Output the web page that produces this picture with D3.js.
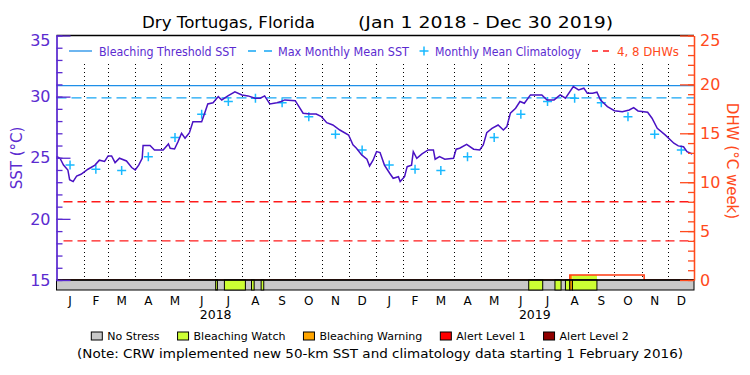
<!DOCTYPE html>
<html>
<head>
<meta charset="utf-8">
<script src="https://cdn.jsdelivr.net/npm/d3@7"></script>
<style>
  body { margin: 0; background: #fff; }
  svg { font-family: "DejaVu Sans", sans-serif; }
</style>
</head>
<body>
<svg id="chart" width="750" height="375"></svg>
<script>
// --- Data ---
const titleLeft = "Dry Tortugas, Florida";
const titleRight = "(Jan 1 2018 - Dec 30 2019)";

const sstSeries = [
  ["2018-01-01",25.1],["2018-01-05",24.96],["2018-01-09",24.4],["2018-01-14",24.0],["2018-01-16",23.2],
  ["2018-01-20",23.05],["2018-01-24",23.5],["2018-01-29",23.65],["2018-02-06",24.06],["2018-02-14",24.4],
  ["2018-02-19",24.8],["2018-02-25",24.7],["2018-03-01",25.15],["2018-03-05",25.15],["2018-03-09",24.6],
  ["2018-03-14",24.96],["2018-03-22",24.74],["2018-03-28",24.2],["2018-04-01",24.0],["2018-04-05",24.4],
  ["2018-04-09",24.96],["2018-04-10",26.0],["2018-04-18",26.0],["2018-04-23",25.64],["2018-05-03",25.64],
  ["2018-05-09",26.13],["2018-05-11",25.78],["2018-05-16",25.72],["2018-05-20",26.32],["2018-05-24",27.0],
  ["2018-05-28",26.6],["2018-06-02",27.05],["2018-06-06",27.95],["2018-06-16",27.95],["2018-06-20",28.77],
  ["2018-06-23",29.4],["2018-06-29",29.5],["2018-07-05",30.0],["2018-07-09",29.73],["2018-07-16",30.06],
  ["2018-07-24",30.4],["2018-08-01",30.14],["2018-08-08",30.06],["2018-08-16",29.87],["2018-08-22",29.87],
  ["2018-08-27",30.06],["2018-09-02",29.4],["2018-09-10",29.5],["2018-09-15",29.6],["2018-09-19",29.73],
  ["2018-10-01",29.67],["2018-10-04",29.32],["2018-10-10",28.64],["2018-10-18",28.58],["2018-10-25",28.58],
  ["2018-10-31",28.36],["2018-11-06",27.87],["2018-11-13",27.68],["2018-11-21",27.27],["2018-12-01",26.86],
  ["2018-12-06",26.05],["2018-12-10",25.78],["2018-12-16",25.23],["2018-12-22",24.88],["2018-12-25",24.33],
  ["2018-12-29",24.8],["2019-01-02",25.5],["2019-01-06",25.42],["2019-01-11",24.4],["2019-01-17",23.73],
  ["2019-01-21",23.32],["2019-01-27",23.45],["2019-01-29",23.05],["2019-02-03",23.45],["2019-02-06",24.27],
  ["2019-02-11",24.4],["2019-02-13",25.5],["2019-02-17",24.96],["2019-02-23",25.31],["2019-03-02",25.64],
  ["2019-03-08",25.64],["2019-03-10",24.88],["2019-03-15",25.09],["2019-03-21",24.88],["2019-03-31",24.96],
  ["2019-04-03",25.7],["2019-04-07",25.78],["2019-04-15",26.1],["2019-04-23",25.7],["2019-04-30",25.64],
  ["2019-05-04",26.05],["2019-05-08",27.05],["2019-05-14",27.4],["2019-05-21",27.68],["2019-05-27",27.27],
  ["2019-05-31",27.55],["2019-06-04",28.64],["2019-06-10",29.05],["2019-06-15",29.6],["2019-06-20",29.46],
  ["2019-06-27",30.14],["2019-07-10",30.14],["2019-07-16",29.73],["2019-07-24",29.73],["2019-07-31",30.14],
  ["2019-08-06",29.87],["2019-08-15",30.82],["2019-08-21",30.55],["2019-08-27",30.69],["2019-08-31",30.28],
  ["2019-09-06",30.28],["2019-09-11",30.36],["2019-09-15",29.73],["2019-09-23",29.18],["2019-10-01",28.85],
  ["2019-10-10",28.77],["2019-10-18",28.91],["2019-10-23",29.1],["2019-10-28",28.83],["2019-11-08",28.72],
  ["2019-11-13",28.23],["2019-11-19",27.41],["2019-11-28",26.87],["2019-12-08",26.19],["2019-12-13",25.97],
  ["2019-12-19",25.9],["2019-12-23",25.5],["2019-12-29",25.31]
];

// monthly mean climatology, Jan..Dec (same for both years)
const climatology = [24.4, 24.06, 23.95, 25.09, 26.65, 28.56, 29.6, 29.87, 29.5, 28.36, 26.92, 25.64];
const years = [2018, 2019];
const monthLetters = ["J","F","M","A","M","J","J","A","S","O","N","D"];

const mmm = 29.9;
const bleachingThreshold = 30.9;
const dhwLevels = [4, 8];

// DHW (step values)
const dhwSeries = [["2018-01-01",0],["2019-08-11",0.5],["2019-11-04",0],["2019-12-31",0]];

// stress level: 0 none, 1 watch, 2 warning, 3 alert 1, 4 alert 2
const stressSegments = [
  ["2018-07-02","2018-07-04",1],["2018-07-12","2018-08-05",1],["2018-08-12","2018-08-15",1],
  ["2018-08-23","2018-08-26",1],
  ["2019-06-25","2019-07-11",1],["2019-07-25","2019-08-01",1],["2019-08-06","2019-08-11",1],
  ["2019-08-11","2019-08-14",2],["2019-08-14","2019-09-11",1]
];
const stressNames = ["No Stress","Bleaching Watch","Bleaching Warning","Alert Level 1","Alert Level 2"];

const sstTicks = d3.range(15, 36);
const sstMajor = [15, 20, 25, 30, 35];
const dhwTicks = d3.range(0, 26);
const dhwMajor = [0, 5, 10, 15, 20, 25];

// --- Styles ---
const purple = "#5b2bd0", orange = "#ff4a1c";
const stressColor = d3.scaleOrdinal().domain([0,1,2,3,4])
  .range(["#c8c8c8", "#ccff33", "#ffa500", "#ff0000", "#900000"]);

const svg = d3.select("#chart");
const pLeft = 56.5, pRight = 694, pTop = 35.5, pBottom = 280, barBottom = 290;
const parse = d3.timeParse("%Y-%m-%d");

const x = d3.scaleTime().domain([parse("2018-01-01"), parse("2019-12-31")]).range([pLeft, pRight]);
const y = d3.scaleLinear().domain([15, 35]).range([pBottom, pTop]);
const yDhw = d3.scaleLinear().domain([0, 25]).range([pBottom, pTop]);

// --- Dotted month lines ---
svg.append("g").selectAll("line")
  .data(d3.timeMonth.range(parse("2018-02-01"), parse("2019-12-31")))
  .enter().append("line")
    .attr("x1", d => Math.round(x(d)) + 0.5).attr("x2", d => Math.round(x(d)) + 0.5)
    .attr("y1", 64).attr("y2", pBottom)
    .attr("stroke", "#000").attr("stroke-width", 1).attr("stroke-dasharray", "1,3");

// --- Threshold lines ---
svg.append("line")
  .attr("x1", pLeft).attr("x2", pRight).attr("y1", y(bleachingThreshold)).attr("y2", y(bleachingThreshold))
  .attr("stroke", "#1f8fe8").attr("stroke-width", 1.3);
svg.append("line")
  .attr("x1", pLeft).attr("x2", pRight).attr("y1", y(mmm)).attr("y2", y(mmm))
  .attr("stroke", "#16a6f5").attr("stroke-width", 1.3).attr("stroke-dasharray", "10,5");

// 4, 8 DHW lines
svg.append("g").selectAll("line")
  .data(dhwLevels)
  .enter().append("line")
    .attr("x1", pLeft + 7).attr("x2", pRight).attr("y1", d => yDhw(d)).attr("y2", d => yDhw(d))
    .attr("stroke", "#ff1a1a").attr("stroke-width", 1.3).attr("stroke-dasharray", "9,5");

// --- Climatology crosses ---
const climPoints = [];
years.forEach(yr => climatology.forEach((v, m) => {
  const a = new Date(yr, m, 1), b = new Date(yr, m + 1, 1);
  climPoints.push({ date: new Date((+a + +b) / 2), value: v });
}));
svg.append("g").selectAll("path")
  .data(climPoints)
  .enter().append("path")
    .attr("transform", d => `translate(${x(d.date)},${y(d.value)})`)
    .attr("d", "M-4.5,0H4.5M0,-4.5V4.5")
    .attr("stroke", "#19b9ff").attr("stroke-width", 1.5);

// --- SST line ---
svg.append("path")
  .datum(sstSeries)
  .attr("fill", "none")
  .attr("stroke", "#4a12c4")
  .attr("stroke-width", 1.5)
  .attr("d", d3.line().x(d => x(parse(d[0]))).y(d => y(d[1])));

// --- DHW fill (stress colour) + line ---
const dhwAt = t => {
  let v = 0;
  dhwSeries.forEach(d => { if (parse(d[0]) <= t) v = d[1]; });
  return v;
};
svg.append("g").selectAll("rect")
  .data(stressSegments.filter(s => dhwAt(parse(s[0])) > 0))
  .enter().append("rect")
    .attr("x", d => x(parse(d[0])))
    .attr("width", d => x(parse(d[1])) - x(parse(d[0])))
    .attr("y", d => yDhw(dhwAt(parse(d[0]))))
    .attr("height", d => yDhw(0) - yDhw(dhwAt(parse(d[0]))))
    .attr("fill", d => stressColor(d[2]));
svg.append("path")
  .datum(dhwSeries)
  .attr("fill", "none")
  .attr("stroke", "#ff3b10")
  .attr("stroke-width", 1.5)
  .attr("d", d3.line().curve(d3.curveStepAfter).x(d => x(parse(d[0]))).y(d => yDhw(d[1])));

// --- Stress bar ---
svg.append("rect")
  .attr("x", pLeft).attr("y", pBottom).attr("width", pRight - pLeft).attr("height", barBottom - pBottom)
  .attr("fill", stressColor(0)).attr("stroke", "#000").attr("stroke-width", 1);
svg.append("g").selectAll("rect")
  .data(stressSegments)
  .enter().append("rect")
    .attr("x", d => x(parse(d[0])))
    .attr("width", d => x(parse(d[1])) - x(parse(d[0])))
    .attr("y", pBottom).attr("height", barBottom - pBottom)
    .attr("fill", d => stressColor(d[2]))
    .attr("stroke", "#000").attr("stroke-width", 1);
svg.append("line")
  .attr("x1", pLeft).attr("x2", pRight).attr("y1", pBottom).attr("y2", pBottom)
  .attr("stroke", "#000").attr("stroke-width", 1.5);

// --- Frame top ---
svg.append("line")
  .attr("x1", pLeft).attr("x2", pRight).attr("y1", pTop).attr("y2", pTop)
  .attr("stroke", "#000").attr("stroke-width", 1.3);

// --- Left axis (SST) ---
const gL = svg.append("g").attr("transform", `translate(${pLeft},0)`).attr("color", purple);
gL.call(d3.axisLeft(y).tickValues(sstTicks).tickSizeInner(-6).tickSizeOuter(0).tickFormat(""));
const gLm = svg.append("g").attr("transform", `translate(${pLeft},0)`).attr("color", purple);
gLm.call(d3.axisLeft(y).tickValues(sstMajor).tickSizeInner(-14).tickSizeOuter(0).tickPadding(6));
gLm.selectAll("text").attr("font-size", 16).attr("font-family", "DejaVu Sans");
gLm.selectAll(".tick").filter(d => d === 35).select("text").attr("y", 5);
[gL, gLm].forEach(g => g.selectAll("line, path").attr("stroke-width", 1.3));

// --- Right axis (DHW) ---
const gR = svg.append("g").attr("transform", `translate(${pRight},0)`).attr("color", orange);
gR.call(d3.axisRight(yDhw).tickValues(dhwTicks).tickSizeInner(-6).tickSizeOuter(0).tickFormat(""));
const gRm = svg.append("g").attr("transform", `translate(${pRight},0)`).attr("color", orange);
gRm.call(d3.axisRight(yDhw).tickValues(dhwMajor).tickSizeInner(-14).tickSizeOuter(0).tickPadding(6));
gRm.selectAll("text").attr("font-size", 16).attr("font-family", "DejaVu Sans");
gRm.selectAll(".tick").filter(d => d === 25).select("text").attr("y", 5);
[gR, gRm].forEach(g => g.selectAll("line, path").attr("stroke-width", 1.3));

// Axis titles
svg.append("text")
  .attr("transform", "translate(22,158) rotate(-90)")
  .attr("text-anchor", "middle")
  .attr("fill", purple).style("font-size", "15px")
  .text("SST (°C)");
svg.append("text")
  .attr("transform", "translate(727,161) rotate(90)")
  .attr("text-anchor", "middle")
  .attr("fill", orange).style("font-size", "15px")
  .text("DHW (°C week)");

// --- Month / year labels ---
const monthStarts = d3.timeMonth.range(parse("2018-01-01"), parse("2020-01-01"));
svg.append("g").selectAll("text")
  .data(monthStarts)
  .enter().append("text")
    .attr("x", d => x(new Date((+d + +d3.timeMonth.offset(d, 1)) / 2)))
    .attr("y", 305)
    .attr("text-anchor", "middle")
    .style("font-size", "12px")
    .text(d => monthLetters[d.getMonth()]);
svg.append("g").selectAll("text")
  .data(years)
  .enter().append("text")
    .attr("x", d => x(new Date(d, 6, 2)))
    .attr("y", 319)
    .attr("text-anchor", "middle")
    .style("font-size", "12.5px")
    .text(d => d);

// --- Title ---
svg.append("text")
  .attr("x", 142).attr("y", 28)
  .attr("textLength", 173).attr("lengthAdjust", "spacingAndGlyphs")
  .style("font-size", "16px")
  .text(titleLeft);
svg.append("text")
  .attr("x", 358).attr("y", 28)
  .attr("textLength", 255).attr("lengthAdjust", "spacingAndGlyphs")
  .style("font-size", "16px")
  .text(titleRight);

// --- Top legend ---
const lg = svg.append("g").attr("transform", "translate(0,51)");
lg.append("line").attr("x1", 69).attr("x2", 92).attr("stroke", "#1f8fe8").attr("stroke-width", 1.3);
lg.append("text").attr("x", 99).attr("y", 4.5)
  .attr("textLength", 137).attr("lengthAdjust", "spacingAndGlyphs")
  .attr("fill", purple).style("font-size", "13px").text("Bleaching Threshold SST");
lg.append("line").attr("x1", 248).attr("x2", 272).attr("stroke", "#16a6f5")
  .attr("stroke-width", 1.3).attr("stroke-dasharray", "8,8");
lg.append("text").attr("x", 278).attr("y", 4.5)
  .attr("textLength", 131).attr("lengthAdjust", "spacingAndGlyphs")
  .attr("fill", purple).style("font-size", "13px").text("Max Monthly Mean SST");
lg.append("path").attr("transform", "translate(424,0)").attr("d", "M-4.5,0H4.5M0,-4.5V4.5")
  .attr("stroke", "#19b9ff").attr("stroke-width", 1.5);
lg.append("text").attr("x", 435).attr("y", 4.5)
  .attr("textLength", 146).attr("lengthAdjust", "spacingAndGlyphs")
  .attr("fill", purple).style("font-size", "13px").text("Monthly Mean Climatology");
lg.append("line").attr("x1", 592).attr("x2", 609).attr("stroke", "#ff1a1a")
  .attr("stroke-width", 1.3).attr("stroke-dasharray", "6,5");
lg.append("text").attr("x", 617).attr("y", 4.5)
  .attr("textLength", 62).attr("lengthAdjust", "spacingAndGlyphs")
  .attr("fill", orange).style("font-size", "13px").text("4, 8 DHWs");

// --- Bottom legend ---
const bl = svg.append("g").attr("transform", "translate(0,340)");
let cx = 0;
const items = bl.selectAll("g").data(stressNames).enter().append("g");
items.append("rect").attr("y", -8).attr("width", 11).attr("height", 8)
  .attr("fill", (d, i) => stressColor(i)).attr("stroke", "#000").attr("stroke-width", 1);
items.append("text").attr("x", 16).attr("y", 0).style("font-size", "11px").text(d => d);
items.each(function() {
  const w = d3.select(this).select("text").node().getComputedTextLength();
  d3.select(this).attr("transform", `translate(${cx},0)`);
  cx += 16 + w + 18;
});
const rowW = cx - 18;
bl.attr("transform", `translate(${(360 - rowW / 2).toFixed(1)},340)`);

svg.append("text")
  .attr("x", 380).attr("y", 358)
  .attr("text-anchor", "middle")
  .attr("textLength", 606).attr("lengthAdjust", "spacingAndGlyphs")
  .style("font-size", "13px")
  .text("(Note: CRW implemented new 50-km SST and climatology data starting 1 February 2016)");
</script>
</body>
</html>
